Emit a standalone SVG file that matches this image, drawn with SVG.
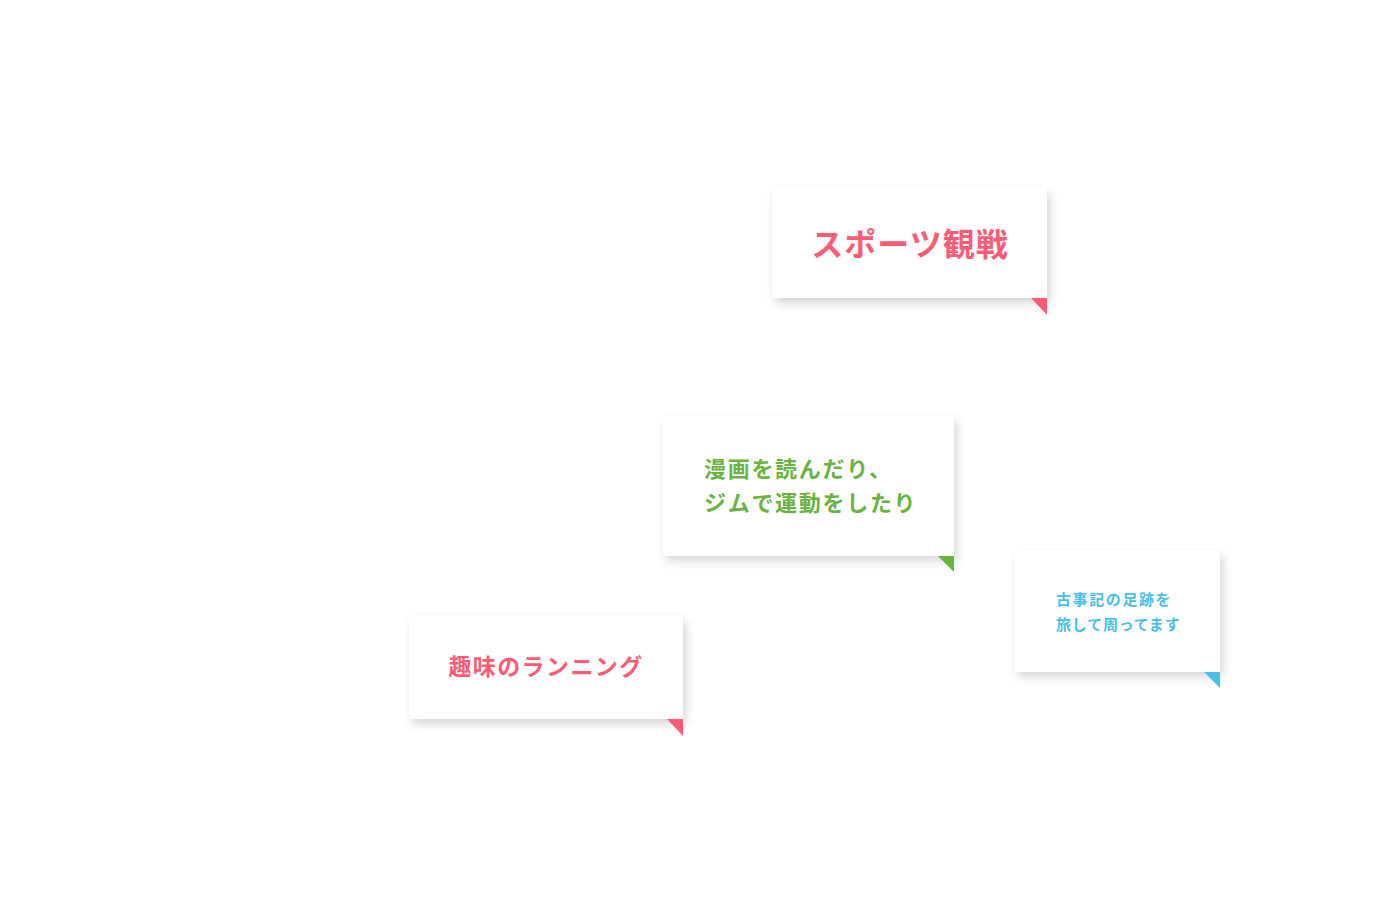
<svg xmlns="http://www.w3.org/2000/svg" width="1400" height="901" viewBox="0 0 1400 901">
<defs>
<filter id="sh" x="-20%" y="-30%" width="140%" height="170%">
<feDropShadow dx="3" dy="5" stdDeviation="5" flood-color="#000" flood-opacity="0.16"/>
</filter>
<style>
.card{fill:#ffffff;filter:url(#sh);}
.t{font-family:"Noto Sans CJK JP","Noto Sans",sans-serif;font-weight:700;}
.pink{fill:#fd5c77;}
.green{fill:#68b43f;}
.blue{fill:#4cbfe8;}
</style>
</defs>
<rect width="1400" height="901" fill="#ffffff"/>
<g id="connectors"></g>
<g id="node-sports">
<path class="card" d="M775,188 H1044 Q1047,188 1047,191 V298 H775 Q772,298 772,295 V191 Q772,188 775,188 Z"/>
<polygon class="pink" points="1031,298 1047,298 1047,315"/>
<text class="t pink" x="910" y="256" font-size="32" text-anchor="middle" letter-spacing="1">スポーツ観戦</text>
</g>
<g id="node-manga">
<path class="card" d="M666,416 H951 Q954,416 954,419 V556 H666 Q663,556 663,553 V419 Q663,416 666,416 Z"/>
<polygon class="green" points="938,556 954,556 954,572"/>
<text class="t green" x="704" y="477" font-size="22" letter-spacing="1.7">漫画を読んだり、</text>
<text class="t green" x="704" y="511" font-size="22" letter-spacing="1.7">ジムで運動をしたり</text>
</g>
<g id="node-kojiki">
<path class="card" d="M1018,550 H1217 Q1220,550 1220,553 V672 H1018 Q1015,672 1015,669 V553 Q1015,550 1018,550 Z"/>
<polygon class="blue" points="1204,672 1220,672 1220,688"/>
<text class="t blue" x="1056" y="605" font-size="15" letter-spacing="1.6">古事記の足跡を</text>
<text class="t blue" x="1056" y="630" font-size="15" letter-spacing="0.8">旅して周ってます</text>
</g>
<g id="node-running">
<path class="card" d="M412,615 H680 Q683,615 683,618 V719 H412 Q409,719 409,716 V618 Q409,615 412,615 Z"/>
<polygon class="pink" points="667,719 683,719 683,736"/>
<text class="t pink" x="546" y="675" font-size="23" text-anchor="middle" letter-spacing="1.4">趣味のランニング</text>
</g>
</svg>
